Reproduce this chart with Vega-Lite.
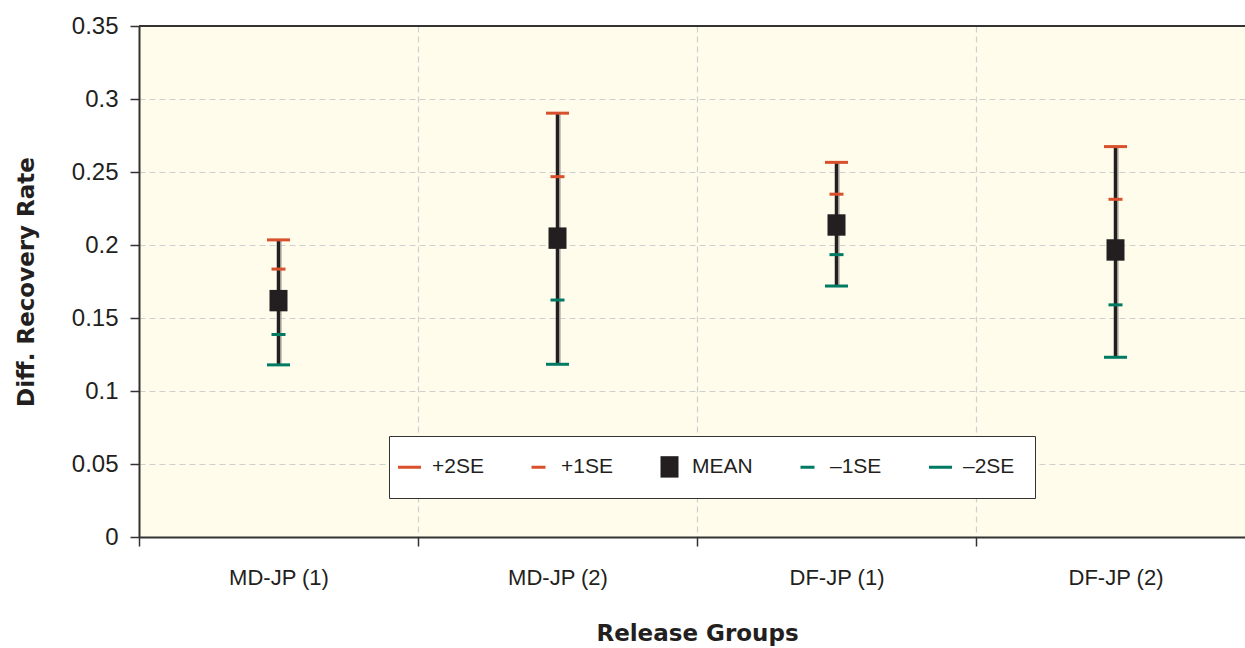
{
  "$schema": "https://vega.github.io/schema/vega-lite/v6.json",
  "autosize": {"type": "none"},
  "padding": {"left": 139, "top": 26, "right": 0, "bottom": 111},
  "width": 1106,
  "height": 511,
  "background": "white",
  "view": {"fill": "#fffcec", "stroke": null},
  "config": {"font": "Liberation Sans"},
  "data": {"values": [
    {"group": "MD-JP (1)", "p2": 0.2035, "p1": 0.1835, "mean": 0.1619, "m1": 0.1387, "m2": 0.1179},
    {"group": "MD-JP (2)", "p2": 0.2903, "p1": 0.2468, "mean": 0.2047, "m1": 0.1623, "m2": 0.1183},
    {"group": "DF-JP (1)", "p2": 0.2566, "p1": 0.2348, "mean": 0.2137, "m1": 0.1934, "m2": 0.1719},
    {"group": "DF-JP (2)", "p2": 0.2674, "p1": 0.2313, "mean": 0.1966, "m1": 0.1590, "m2": 0.1231}
  ]},
  "layer": [
    {
      "mark": {"type": "rule", "color": "#b9b5a8", "strokeWidth": 1.5, "xOffset": 2.5},
      "encoding": {
        "x": {
          "field": "group", "type": "nominal", "sort": null,
          "scale": {"range": [0, 1116], "paddingInner": 0, "paddingOuter": 0},
          "axis": {
            "title": "Release Groups",
            "titleFont": "DejaVu Sans", "titleFontSize": 23, "titleFontWeight": "bold", "titleColor": "#231f20",
            "titlePadding": 34,
            "labelFont": "Liberation Sans",
            "labelFontSize": 22, "labelColor": "#231f20", "labelAngle": 0, "labelPadding": 21,
            "tickBand": "extent", "tickSize": 9, "tickColor": "#333333", "tickWidth": 1.5,
            "domainColor": "#333333", "domainWidth": 2,
            "grid": true, "gridDash": [6, 4], "gridColor": "#cfcfcf", "gridWidth": 1.2
          }
        },
        "y": {"field": "m2", "type": "quantitative", "scale": {"domain": [0, 0.35], "nice": false},
          "axis": {
            "title": "Diff. Recovery Rate",
            "titleFont": "DejaVu Sans", "titleFontSize": 23, "titleFontWeight": "bold", "titleColor": "#231f20",
            "titlePadding": 33,
            "values": [0, 0.05, 0.1, 0.15, 0.2, 0.25, 0.3, 0.35], "format": "~g",
            "labelFont": "Liberation Sans",
            "labelFontSize": 24, "labelColor": "#231f20", "labelPadding": 12,
            "tickSize": 9, "tickColor": "#333333", "tickWidth": 1.5,
            "domainColor": "#333333", "domainWidth": 2,
            "grid": true, "gridDash": [6, 4], "gridColor": "#cfcfcf", "gridWidth": 1.2
          }},
        "y2": {"field": "p2"}
      }
    },
    {
      "mark": {"type": "rule", "color": "#333333", "strokeWidth": 2},
      "encoding": {"y": {"datum": 0.35, "type": "quantitative"}}
    },
    {
      "mark": {"type": "rule", "color": "#231f20", "strokeWidth": 3.5},
      "encoding": {
        "x": {"field": "group", "type": "nominal", "sort": null},
        "y": {"field": "m2", "type": "quantitative"},
        "y2": {"field": "p2"}
      }
    },
    {
      "transform": [{"fold": ["p2", "p1", "mean", "m1", "m2"], "as": ["stat", "value"]}],
      "mark": {"type": "point", "filled": true, "opacity": 1, "size": 441, "strokeWidth": 0},
      "encoding": {
        "x": {"field": "group", "type": "nominal", "sort": null},
        "y": {"field": "value", "type": "quantitative"},
        "color": {
          "field": "stat", "type": "nominal",
          "scale": {"domain": ["p2", "p1", "mean", "m1", "m2"], "range": ["#d9502c", "#d9502c", "#231f20", "#007a63", "#007a63"]},
          "legend": {
            "title": null, "orient": "none", "legendX": 250, "legendY": 410,
            "direction": "horizontal", "columns": 5,
            "labelExpr": "{'p2':'+2SE','p1':'+1SE','mean':'MEAN','m1':'–1SE','m2':'–2SE'}[datum.label]",
            "fillColor": "white", "strokeColor": "#333333", "padding": 20,
            "labelFont": "Liberation Sans",
            "labelFontSize": 21, "labelColor": "#231f20", "labelOffset": 12,
            "symbolSize": 441, "symbolOpacity": 1, "symbolStrokeWidth": 0, "symbolOffset": -10,
            "columnPadding": 47
          }
        },
        "shape": {
          "field": "stat", "type": "nominal",
          "scale": {"domain": ["p2", "p1", "mean", "m1", "m2"], "range": [
            "M-1.095,-0.143H1.095V0.143H-1.095Z",
            "M-0.667,-0.143H0.667V0.143H-0.667Z",
            "M-0.857,-1.02H0.857V1.02H-0.857Z",
            "M-0.667,-0.143H0.667V0.143H-0.667Z",
            "M-1.095,-0.143H1.095V0.143H-1.095Z"
          ]}
        }
      }
    }
  ]
}
